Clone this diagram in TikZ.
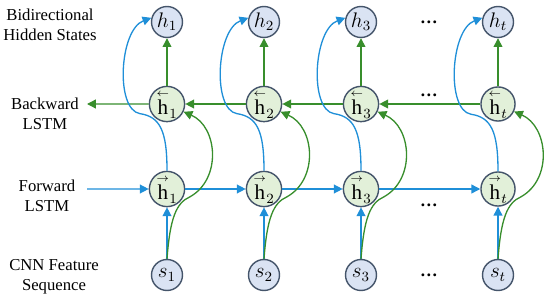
\documentclass[tikz,border=0pt]{standalone}
\usepackage{amsmath,amssymb}
\usepackage{fontspec}
\setmainfont{Liberation Serif}
\usepackage{xcolor}
\usepackage{tikz}
\usetikzlibrary{positioning,arrows.meta}

\definecolor{lnblue}{HTML}{1F8FD8}
\definecolor{lngreen}{HTML}{388E2C}
\definecolor{fillblue}{HTML}{DAE3F3}
\definecolor{fillgreen}{HTML}{E2F0D9}
\definecolor{rim}{HTML}{44546A}

\newcommand{\bwh}{\overset{\scriptscriptstyle\leftarrow}{\mathrm{h}}}
\newcommand{\fwh}{\overset{\scriptscriptstyle\rightarrow}{\mathrm{h}}}

\begin{document}
\begin{tikzpicture}[
    node distance=1.7cm and 1.94cm, on grid,
    every node/.style={font=\fontsize{9.5}{11.5}\selectfont},
    hnode/.style={circle, draw=rim, thick, fill=fillblue, minimum size=0.62cm,
                  inner sep=0pt, font=\fontsize{12}{13}\selectfont},
    lnode/.style={hnode, fill=fillgreen},
    lbl/.style={align=center},
    dots/.style={font=\bfseries\fontsize{10}{12}\selectfont},
    barr/.style={-{Triangle[length=5pt,width=5pt]}, lnblue, line width=0.75pt},
    garr/.style={-{Triangle[length=5pt,width=5pt]}, lngreen, line width=0.75pt}
]
\useasboundingbox (0,0) rectangle (11,6);

% sequence row
\node[hnode]                        (s1) at (3.34,0.5) {$s_1$};
\node[hnode, right=of s1]           (s2) {$s_2$};
\node[hnode, right=of s2]           (s3) {$s_3$};
\node[hnode, right=2.74cm of s3]    (st) {$s_t$};
% forward row
\node[lnode, above=1.72cm of s1]    (fw1) {$\fwh_1$};
\node[lnode, above=1.72cm of s2]    (fw2) {$\fwh_2$};
\node[lnode, above=1.72cm of s3]    (fw3) {$\fwh_3$};
\node[lnode, above=1.72cm of st]    (fwt) {$\fwh_t$};
% backward row
\node[lnode, above=of fw1]          (bw1) {$\bwh_1$};
\node[lnode, above=of fw2]          (bw2) {$\bwh_2$};
\node[lnode, above=of fw3]          (bw3) {$\bwh_3$};
\node[lnode, above=of fwt]          (bwt) {$\bwh_t$};
% hidden states
\node[hnode, above=1.64cm of bw1]   (h1) {$h_1$};
\node[hnode, above=1.64cm of bw2]   (h2) {$h_2$};
\node[hnode, above=1.64cm of bw3]   (h3) {$h_3$};
\node[hnode, above=1.64cm of bwt]   (ht) {$h_t$};

% dots
\node[dots, right=1.36cm of h3]                 (dh) {\ldots};
\node[dots, above right=0.18cm and 1.36cm of bw3] (db) {\ldots};
\node[dots, below right=0.32cm and 1.36cm of fw3] (df) {\ldots};
\node[dots, right=1.36cm of s3]                 (ds) {\ldots};

% row labels
\node[lbl] (lh) at (1.0,5.5)  {Bidirectional\\Hidden States};
\node[lbl] (lb) at (0.9,3.72) {Backward\\LSTM};
\node[lbl] (lf) at (0.94,2.08) {Forward\\LSTM};
\node[lbl] (ls) at (1.08,0.46) {CNN Feature\\Sequence};

\coordinate (bout) at (1.74,3.92);
\coordinate (fin)  at (1.74,2.22);

% forward chain
\draw[barr] (fin) -- (fw1);
\draw[barr] (fw1) -- (fw2);
\draw[barr] (fw2) -- (fw3);
\draw[barr] (fw3) -- (fwt);
% backward chain
\draw[garr] (bwt) -- (bw3);
\draw[garr] (bw3) -- (bw2);
\draw[garr] (bw2) -- (bw1);
\draw[garr] (bw1) -- (bout);

% inputs and outputs
\draw[barr] (s1) -- (fw1);
\draw[barr] (s2) -- (fw2);
\draw[barr] (s3) -- (fw3);
\draw[barr] (st) -- (fwt);
\draw[garr] (bw1) -- (h1);
\draw[garr] (bw2) -- (h2);
\draw[garr] (bw3) -- (h3);
\draw[garr] (bwt) -- (ht);

% forward state up to hidden state
\draw[barr] (fw1.north) .. controls +(0,0.8) and +(0.4,-0.06) .. ++(-0.54,1.14)
    .. controls +(-0.5,0.08) and +(-0.64,-0.24) .. (h1.165);
\draw[barr] (fw2.north) .. controls +(0,0.8) and +(0.4,-0.06) .. ++(-0.54,1.14)
    .. controls +(-0.5,0.08) and +(-0.64,-0.24) .. (h2.165);
\draw[barr] (fw3.north) .. controls +(0,0.8) and +(0.4,-0.06) .. ++(-0.54,1.14)
    .. controls +(-0.5,0.08) and +(-0.64,-0.24) .. (h3.165);
\draw[barr] (fwt.north) .. controls +(0,0.8) and +(0.4,-0.06) .. ++(-0.54,1.14)
    .. controls +(-0.5,0.08) and +(-0.64,-0.24) .. (ht.165);

% input up to backward state
\draw[garr] (s1.north) .. controls +(0.06,0.8) and +(-0.28,-0.12) .. ++(0.46,1.24)
    .. controls +(0.64,0.36) and +(0.68,-0.3) .. (bw1.-25);
\draw[garr] (s2.north) .. controls +(0.06,0.8) and +(-0.28,-0.12) .. ++(0.46,1.24)
    .. controls +(0.64,0.36) and +(0.68,-0.3) .. (bw2.-25);
\draw[garr] (s3.north) .. controls +(0.06,0.8) and +(-0.28,-0.12) .. ++(0.46,1.24)
    .. controls +(0.64,0.36) and +(0.68,-0.3) .. (bw3.-25);
\draw[garr] (st.north) .. controls +(0.06,0.8) and +(-0.28,-0.12) .. ++(0.46,1.24)
    .. controls +(0.64,0.36) and +(0.68,-0.3) .. (bwt.-25);
\end{tikzpicture}
\end{document}
